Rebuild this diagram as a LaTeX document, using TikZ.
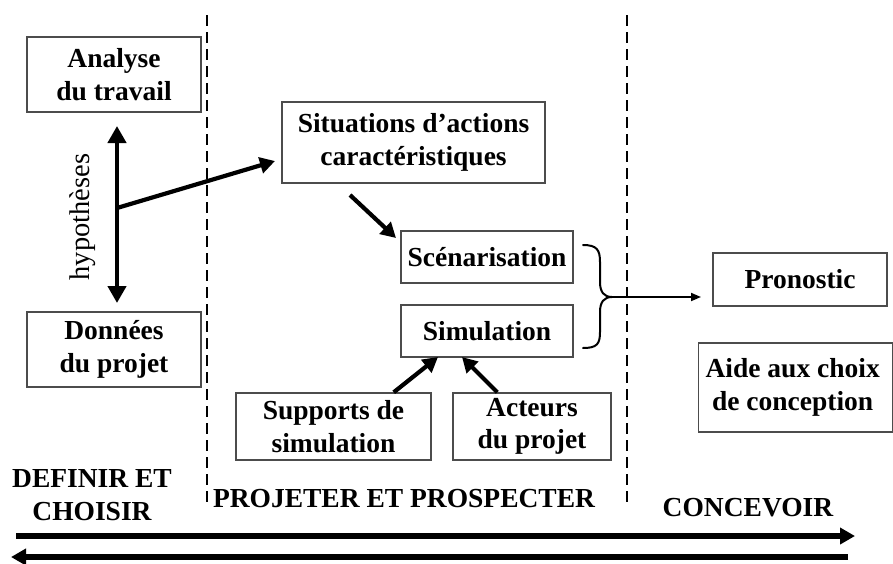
\documentclass[tikz,border=0pt]{standalone}
\usepackage{fontspec}
\setmainfont{Liberation Serif}
\usetikzlibrary{arrows.meta}
\begin{document}
\begin{tikzpicture}[x=1pt,y=-1pt,
  box/.style={draw=black!70,line width=1.4pt,align=center,inner sep=0pt,
    font=\fontsize{27.5}{32.5}\selectfont\bfseries},
  big/.style={line width=4.2pt,-{Triangle[length=15pt,width=16pt]}},
  dashline/.style={line width=2.4pt,dash pattern=on 11pt off 6pt},
  lab/.style={font=\fontsize{27.5}{32.5}\selectfont\bfseries,align=center,inner sep=0pt}]
\useasboundingbox[fill=white] (0,0) rectangle (893,563);
% dashed separators
\coordinate (d1t) at (207,15); \coordinate (d1b) at (207,505);
\coordinate (d2t) at (627,15); \coordinate (d2b) at (627,505);
\draw[dashline] (d1t) -- (d1b);
\draw[dashline] (d2t) -- (d2b);
% boxes
\node[box,minimum width=174pt,minimum height=75pt] (ana) at (114,74.5) {Analyse\\du travail};
\node[box,minimum width=174pt,minimum height=75pt] (don) at (114,349.5) {Données\\du projet};
\node[box,minimum width=263pt,minimum height=81pt] (sit) at (413.5,142.5) {Situations d’actions\\caractéristiques};
\node[box,minimum width=172pt,minimum height=52pt] (sce) at (487,257) {Scénarisation};
\node[box,minimum width=172pt,minimum height=52pt] (sim) at (487,331) {Simulation};
\node[box,minimum width=174pt,minimum height=53pt] (pro) at (800,279.5) {Pronostic};
\node[box,minimum width=194pt,minimum height=89pt,anchor=west] (aid) at (698,387.5) {\hspace*{-6pt}Aide aux choix\\\hspace*{-6pt}de conception};
\node[box,minimum width=195pt,minimum height=67pt] (sup) at (333.5,426.5) {Supports de\\simulation};
\node[box,minimum width=158pt,minimum height=67pt] (act) at (532,426.5) {Acteurs\\du projet};
% hypotheses arrow
\coordinate (ht) at (117,126);
\coordinate (hb) at (117,303);
\coordinate (hm) at (117,208);
\draw[line width=4.2pt,{Triangle[length=17pt,width=18pt]}-{Triangle[length=17pt,width=18pt]}] (ht) -- (hb);
\node[font=\fontsize{28.5}{32}\selectfont,rotate=90,inner sep=0pt] (hyp) at (83,217) {hypothèses};
\coordinate (st) at (275,161);
\draw[big] (hm) -- (st);
% situations -> scenarisation
\coordinate (a1s) at (350,195); \coordinate (a1e) at (396,238);
\draw[big] (a1s) -- (a1e);
% supports/acteurs -> simulation
\coordinate (a2e) at (438,357); \coordinate (a3e) at (462,357);
\draw[big] (sup.north east) ++(-38pt,0) coordinate (a2s) -- (a2e);
\draw[big] (act.north west) ++(45pt,0) coordinate (a3s) -- (a3e);
% brace
\coordinate (bt) at (612,297);
\draw[line width=2pt,line cap=round]
  (583,245) .. controls (597,245) and (600,250) .. (600,262)
  -- (600,282) .. controls (600,292) and (604,297) .. (bt)
  .. controls (604,297) and (600,302) .. (600,312)
  -- (600,332) .. controls (600,344) and (597,348) .. (583,348);
\coordinate (pe) at (701,297);
\draw[line width=1.8pt,-{Triangle[length=10pt,width=8pt]}] (bt) -- (pe);
% bottom labels
\node[lab] (def) at (92,495) {DEFINIR ET\\CHOISIR};
\node[lab] (prj) at (404,499) {PROJETER ET PROSPECTER};
\node[lab] (con) at (748,508) {CONCEVOIR};
% bottom arrows
\coordinate (r1) at (16,536); \coordinate (r2) at (855,536);
\coordinate (l1) at (848,557); \coordinate (l2) at (11,557);
\draw[line width=5.5pt,-{Triangle[length=15pt,width=16pt]}] (r1) -- (r2);
\draw[line width=5.5pt,-{Triangle[length=15pt,width=16pt]}] (l1) -- (l2);
\end{tikzpicture}
\end{document}
